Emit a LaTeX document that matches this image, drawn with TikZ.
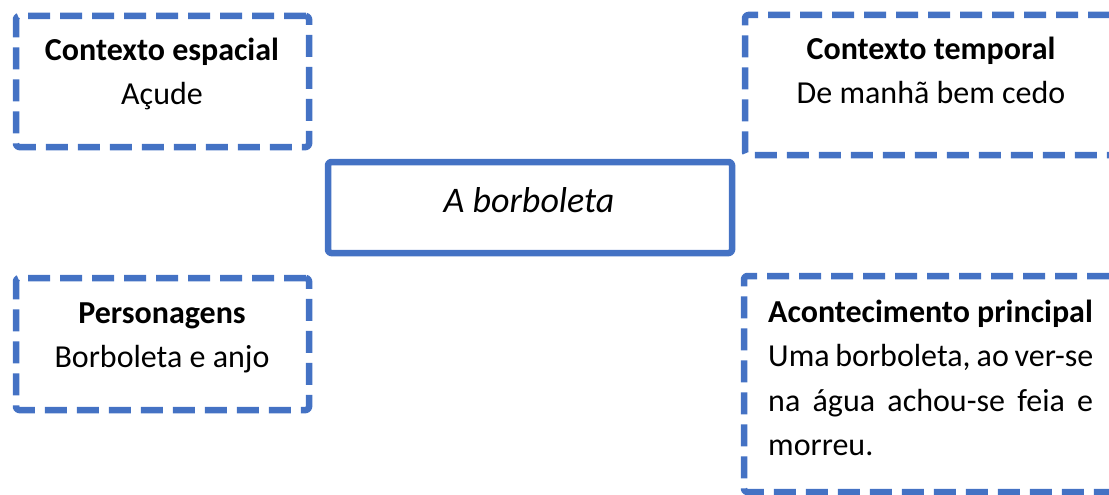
\documentclass[tikz,border=0pt]{standalone}
\usepackage{fontspec}
\setmainfont{Carlito}
\definecolor{wordblue}{HTML}{4472C4}
\tikzset{
  dbox/.style={draw=wordblue, line width=6.5pt, dash pattern=on 22pt off 10pt,
               rounded corners=3pt, line join=round, rectangle, inner sep=0pt},
  sbox/.style={draw=wordblue, line width=6.5pt, rounded corners=3pt,
               line join=round, rectangle, inner sep=0pt},
  head/.style={anchor=base, inner sep=0pt, font=\fontsize{32}{44.5}\selectfont\bfseries},
  body/.style={anchor=base, inner sep=0pt, font=\fontsize{32}{44.5}\selectfont},
}
\begin{document}
\begin{tikzpicture}[x=1pt, y=-1pt]
\useasboundingbox (0,0) rectangle (1109,495);
\clip (0,0) rectangle (1109,495);

% frames
\node[dbox, minimum width=293pt, minimum height=131pt] (espacial) at (162.5,81.5) {};
\node[dbox, minimum width=400pt, minimum height=140pt] (temporal) at (945,85) {};
\node[sbox, minimum width=404pt, minimum height=91pt] (titulo) at (530,207.5) {};
\node[dbox, minimum width=293pt, minimum height=132pt] (personagens) at (162.5,344) {};
\node[dbox, minimum width=400pt, minimum height=216pt] (acontecimento) at (944,384) {};

% texts
\node[head] (espacialT) at (162,60.5) {Contexto espacial};
\node[body] (espacialB) at (162,105) {Açude};

\node[head] (temporalT) at (931,60) {Contexto temporal};
\node[body] (temporalB) at (931,103.5) {De manhã bem cedo};

\node[anchor=base, inner sep=0pt, font=\fontsize{36}{44}\selectfont\itshape] (tituloT) at (529,212) {A borboleta};

\node[head] (personagensT) at (162,323) {Personagens};
\node[body] (personagensB) at (162,367) {Borboleta e anjo};

\node[head, anchor=base west] (acontT) at (768,322) {Acontecimento principal};
\node[body, anchor=base west] (acontB1) at (768,366.5) {\makebox[325pt][s]{Uma borboleta, ao ver-se}};
\node[body, anchor=base west] (acontB2) at (768,411) {\makebox[325pt][s]{na água achou-se feia e}};
\node[body, anchor=base west] (acontB3) at (768,455.5) {morreu.};
\end{tikzpicture}
\end{document}
